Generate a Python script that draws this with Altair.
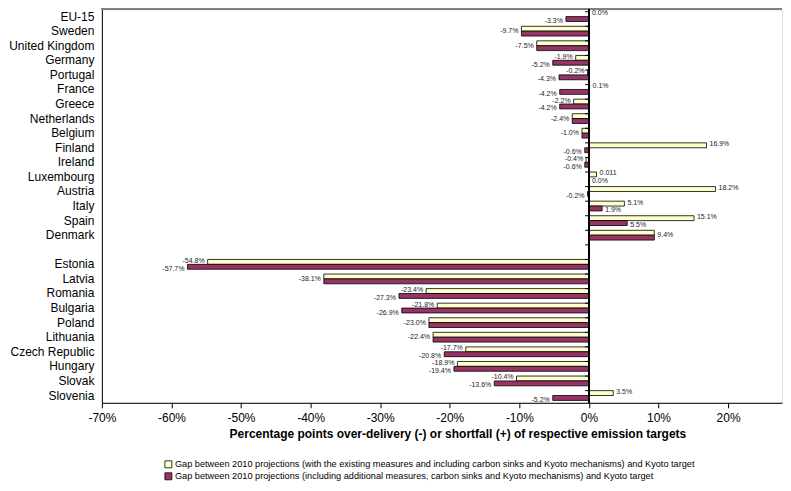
import altair as alt
import pandas as pd

countries = ["EU-15", "Sweden", "United Kingdom", "Germany", "Portugal", "France",
             "Greece", "Netherlands", "Belgium", "Finland", "Ireland", "Luxembourg",
             "Austria", "Italy", "Spain", "Denmark", " ", "Estonia", "Latvia", "Romania",
             "Bulgaria", "Poland", "Lithuania", "Czech Republic", "Hungary", "Slovak",
             "Slovenia"]

# Gap with existing measures (incl. sinks and Kyoto mechanisms)
existing = [0.0, -9.7, -7.5, -1.9, -0.2, 0.1, -2.2, -2.4, -1.0, 16.9, -0.4, 1.1,
            18.2, 5.1, 15.1, 9.4, None, -54.8, -38.1, -23.4, -21.8, -23.0, -22.4,
            -17.7, -18.9, -10.4, 3.5]
# Gap including additional measures
additional = [-3.3, -9.7, -7.5, -5.2, -4.3, -4.2, -4.2, -2.4, -1.0, -0.6, -0.6, 0.0,
              -0.2, 1.9, 5.5, 9.4, None, -57.7, -38.1, -27.3, -26.9, -23.0, -22.4,
              -20.8, -19.4, -13.6, -5.2]

tick_values = [-70, -60, -50, -40, -30, -20, -10, 0, 10, 20]

label_overrides = {("Luxembourg", "s1"): "0.011"}

series_names = {
    "s1": "Gap between 2010 projections (with the existing measures and including carbon sinks and Kyoto mechanisms) and Kyoto target",
    "s2": "Gap between 2010 projections (including additional measures, carbon sinks and Kyoto mechanisms) and Kyoto target",
}
series_order = [series_names["s1"], series_names["s2"]]

rows = []
for c, a, b in zip(countries, existing, additional):
    if a is None:
        continue
    same = abs(a - b) < 1e-9
    for key, v in (("s1", a), ("s2", b)):
        rows.append({
            "country": c,
            "series": series_names[key],
            "key": key,
            "value": v,
            "text": label_overrides.get((c, key), f"{v:.1f}%"),
            "same": same,
        })
df = pd.DataFrame(rows)

W, H = 681, 394
FONT = "Liberation Sans"

yscale = alt.Scale(domain=countries, paddingInner=0.33, paddingOuter=0.165)
xscale = alt.Scale(domain=[-70, 27.75], nice=False, zero=False)

base = alt.Chart(df)

bars = base.mark_bar(stroke="black", strokeWidth=0.8).encode(
    x=alt.X("value:Q", scale=xscale,
            axis=alt.Axis(values=tick_values, labelExpr="datum.value + '%'",
                          grid=False, domainColor="black", tickColor="black", tickSize=5,
                          labelFlush=False, labelFontSize=12, labelColor="black",
                          labelPadding=5,
                          title="Percentage points over-delivery (-) or shortfall (+) of respective emission targets",
                          titleFontSize=12, titleFontWeight="bold", titleColor="black",
                          titlePadding=5, titleX=356)),
    y=alt.Y("country:N", scale=yscale, sort=countries,
            axis=alt.Axis(title=None, ticks=False, domainColor="black", labelFontSize=12,
                          labelColor="black", labelPadding=8)),
    yOffset=alt.YOffset("series:N", sort=series_order),
    color=alt.Color("series:N", sort=series_order,
                    scale=alt.Scale(domain=series_order, range=["#FFFFCC", "#993366"]),
                    legend=alt.Legend(title=None, orient="none", legendX=62, legendY=451,
                                      direction="vertical", symbolType="square",
                                      symbolSize=49, symbolStrokeColor="black",
                                      symbolStrokeWidth=0.8, labelFontSize=9.2,
                                      labelColor="black", labelLimit=0, rowPadding=1,
                                      labelOffset=2, padding=0)),
)

def labels(filt, align, dx, dy, offset):
    enc = dict(
        x=alt.X("value:Q", scale=xscale),
        y=alt.Y("country:N", scale=yscale, sort=countries),
        text="text:N",
    )
    if offset:
        enc["yOffset"] = alt.YOffset("series:N", sort=series_order)
    return base.transform_filter(filt).mark_text(
        align=align, baseline="middle", dx=dx, dy=dy, fontSize=7, font=FONT, color="#222"
    ).encode(**enc)

text_layers = [
    labels("!datum.same && datum.key == 's1' && datum.value < 0", "right", -3, -1, True),
    labels("!datum.same && datum.key == 's1' && datum.value >= 0", "left", 3, -1, True),
    labels("!datum.same && datum.key == 's2' && datum.value < 0", "right", -3, 2, True),
    labels("!datum.same && datum.key == 's2' && datum.value >= 0", "left", 3, 2, True),
    labels("datum.same && datum.key == 's1' && datum.value < 0", "right", -3, 0, False),
    labels("datum.same && datum.key == 's1' && datum.value >= 0", "left", 3, 0, False),
]

tick_df = pd.DataFrame({"country": countries})
boundary_ticks = alt.Chart(tick_df).mark_rule(color="black", strokeWidth=1).encode(
    y=alt.Y("country:N", scale=yscale, sort=countries, bandPosition=0),
    x=alt.datum(-0.55),
    x2=alt.datum(0),
)
zero_line = alt.Chart(tick_df).mark_rule(color="black", strokeWidth=1.2).encode(
    x=alt.datum(0)
)
top_border = alt.Chart(tick_df).mark_rule(color="#808080", strokeWidth=1.5).encode(
    y=alt.value(0), x=alt.value(0), x2=alt.value(W)
)

chart = alt.layer(
    top_border, bars, zero_line, boundary_ticks, *text_layers
).properties(
    width=W, height=H, padding={"left": 0, "top": 0, "right": 0, "bottom": 0}
).configure_view(stroke=None).configure(font=FONT)

chart.save("out.html", embed_options={"renderer": "svg", "actions": False})
